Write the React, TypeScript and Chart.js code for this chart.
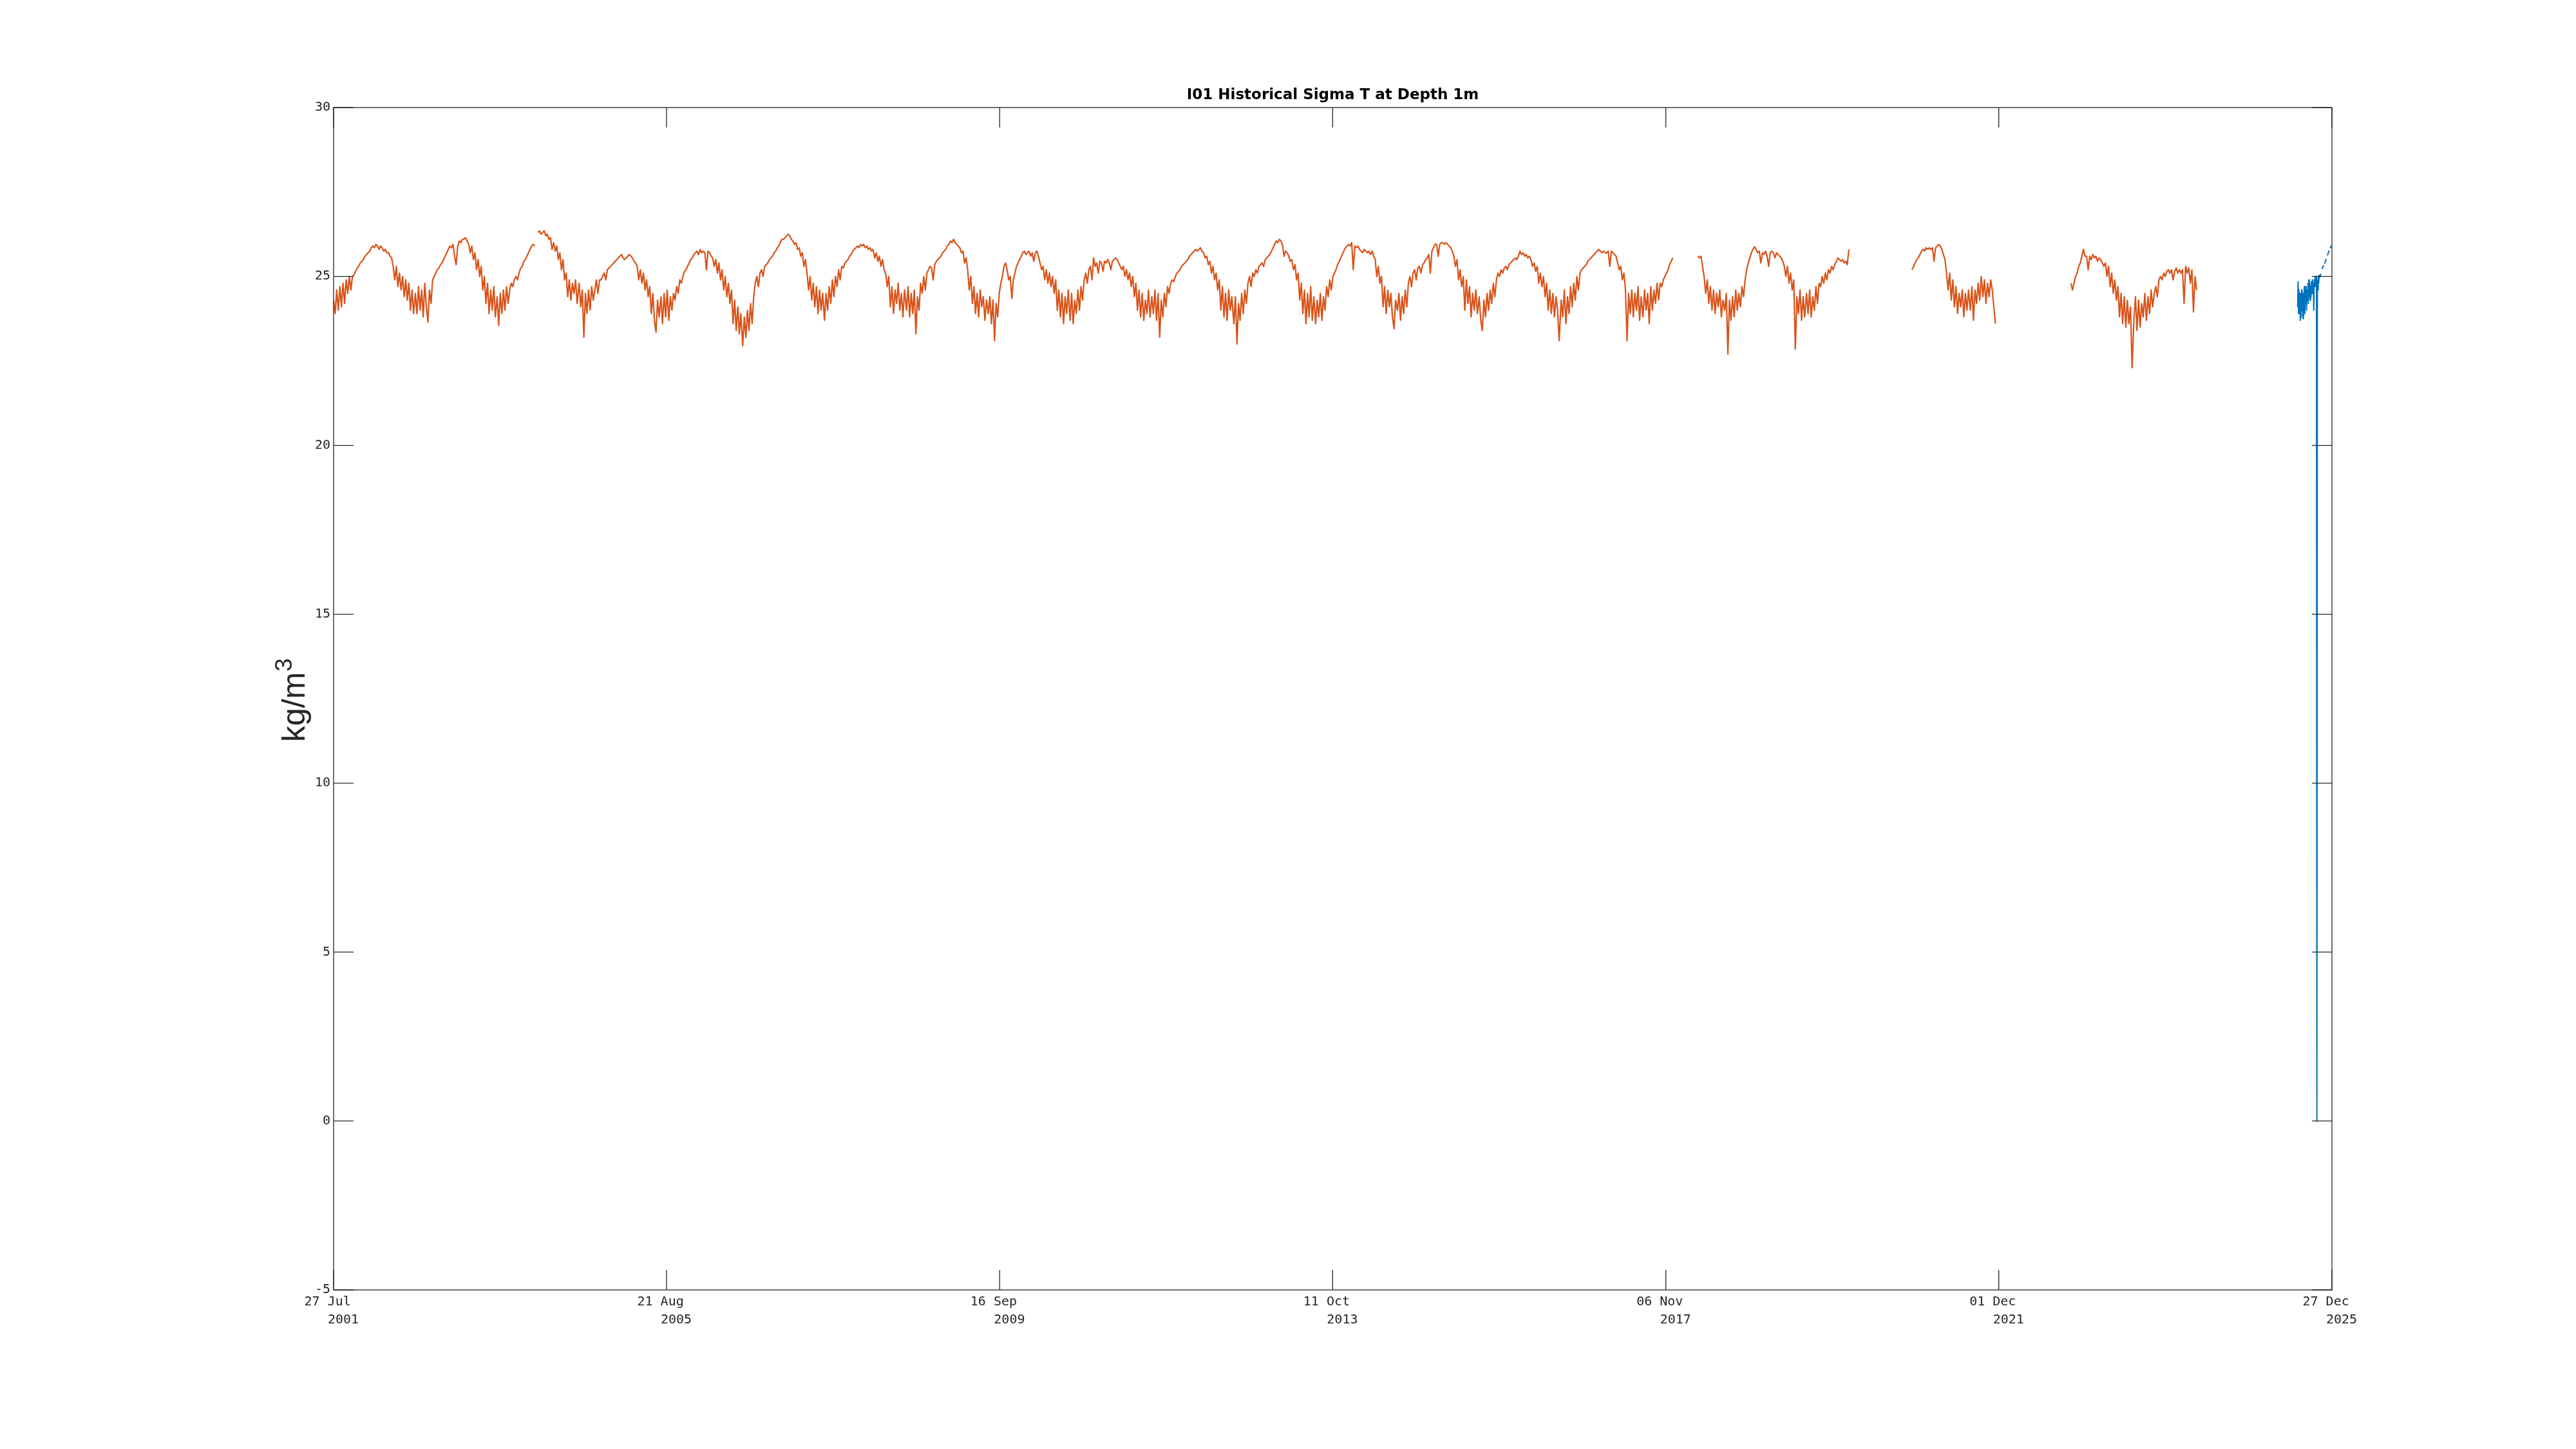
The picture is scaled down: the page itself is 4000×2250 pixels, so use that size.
import React, { useEffect, useRef } from "react";
import { Chart, registerables } from "chart.js";

Chart.register(...registerables);

const ORANGE = "#D95319";
const BLUE = "#0072BD";
const AXIS = "#262626";
const TITLE = "I01 Historical Sigma T at Depth 1m";

const X_START = "2001-07-27";
const X_END = "2025-12-27";
const xTickDates = ["2001-07-27", "2005-08-21", "2009-09-16", "2013-10-11", "2017-11-06", "2021-12-01", "2025-12-27"];
const xTickDayLabels = ["27 Jul", "21 Aug", "16 Sep", "11 Oct", "06 Nov", "01 Dec", "27 Dec"];
const xTickYearLabels = ["2001", "2005", "2009", "2013", "2017", "2021", "2025"];
const yTickValues = [-5, 0, 5, 10, 15, 20, 25, 30];

// Weekly sigma-T readings, each list starting on 27 Jul of its year
const cycleStarts = [
  "2001-07-27", "2002-07-27", "2003-07-27", "2004-07-27", "2005-07-27", "2006-07-27",
  "2007-07-27", "2008-07-27", "2009-07-27", "2010-07-27", "2011-07-27", "2012-07-27",
  "2013-07-27", "2014-07-27", "2015-07-27", "2016-07-27", "2017-07-27", "2018-07-27",
  "2019-07-27", "2020-07-27", "2021-07-27", "2022-07-27", "2023-07-27",
];

const c2001 = [24.3, 23.9, 24.6, 24.0, 24.7, 24.1, 24.8, 24.2, 24.9, 24.5, 25.0, 24.6, 25.0,
  25.05, 25.15, 25.25, 25.3, 25.4, 25.45, 25.5, 25.6, 25.65, 25.7, 25.75, 25.85, 25.9,
  25.85, 25.95, 25.9, 25.8, 25.9, 25.85, 25.75, 25.8, 25.7, 25.7, 25.6, 25.55,
  25.3, 24.9, 25.3, 24.7, 25.1, 24.6, 25.0, 24.4, 24.9, 24.3, 24.8, 24.0, 24.6, 23.9];
const c2002 = [24.5, 23.9, 24.7, 24.0, 24.6, 23.8, 24.8, 24.1, 23.65, 24.6, 24.2,
  24.9, 25.0, 25.1, 25.2, 25.25, 25.35, 25.4, 25.5, 25.6, 25.7,
  25.8, 25.9, 25.85, 25.95, 25.6, 25.35,
  25.9, 26.05, 26.0, 26.1, 26.1, 26.15, 26.05, 25.95,
  25.7, 25.9, 25.5, 25.7, 25.2, 25.5, 25.0, 25.3,
  24.6, 25.0, 24.2, 24.8, 23.9, 24.6, 24.0, 24.7, 23.8];
const c2003 = [24.4, 23.55, 24.5, 23.9, 24.6, 24.0, 24.7, 24.2, 24.6,
  24.8, 24.7, 24.9, 25.0, 24.9, 25.1, 25.25, 25.3, 25.45, 25.5, 25.6, 25.7, 25.8, 25.9, 25.95,
  25.9, null,
  26.3, 26.35, 26.25, 26.3, 26.35, 26.2, 26.25, 26.1,
  26.15, 25.8, 26.0, 25.75, 25.9, 25.5, 25.7, 25.2, 25.5, 24.9,
  25.1, 24.4, 24.9, 24.3, 24.8, 24.5, 24.9, 24.2];
const c2004 = [24.8, 24.1, 24.6, 23.2, 24.5, 23.9, 24.6, 24.0, 24.7, 24.3,
  24.6, 24.9, 24.5, 24.9, 24.9, 25.0, 25.1, 24.9, 25.2, 25.25, 25.3, 25.35, 25.4, 25.45,
  25.5, 25.55, 25.6, 25.65, 25.55, 25.5, 25.55, 25.6, 25.65, 25.6, 25.55, 25.45, 25.4,
  25.3, 24.9, 25.2, 24.8, 25.1, 24.6, 24.9, 24.4,
  24.7, 23.9, 24.5, 23.7, 23.35, 24.3, 23.8];
const c2005 = [24.4, 23.6, 24.5, 23.8, 24.6, 23.7, 24.4, 24.0, 24.5,
  24.3, 24.7, 24.5, 24.9, 24.8, 25.0, 25.15, 25.2, 25.3, 25.4, 25.5, 25.55,
  25.65, 25.7, 25.75, 25.65, 25.8, 25.7, 25.75, 25.7, 25.2, 25.75, 25.7, 25.6,
  25.55, 25.3, 25.5, 25.1, 25.4, 24.9, 25.2, 24.6, 25.0, 24.4, 24.8,
  24.2, 24.6, 23.6, 24.3, 23.4, 24.1, 23.3, 23.9];
const c2006 = [22.95, 23.8, 23.2, 24.0, 23.4, 24.2, 23.6, 24.4,
  24.8, 25.0, 24.7, 25.1, 25.2, 25.0, 25.3, 25.35, 25.4, 25.5, 25.55, 25.6, 25.7, 25.75, 25.85, 25.9, 26.0, 26.1,
  26.1, 26.15, 26.2, 26.25, 26.2,
  26.1, 26.05, 25.95, 26.0, 25.8, 25.85, 25.6, 25.7, 25.3, 25.5,
  25.1, 24.6, 25.0, 24.3, 24.8, 24.1, 24.7, 23.9, 24.6, 24.0, 24.5];
const c2007 = [23.7, 24.5, 24.0, 24.7, 24.2, 24.9, 24.4, 25.0, 24.7,
  25.2, 24.9, 25.3, 25.25, 25.4, 25.45, 25.5, 25.6, 25.65, 25.75, 25.8,
  25.85, 25.9, 25.85, 25.95, 25.9, 25.95, 25.85, 25.9, 25.8, 25.85, 25.75,
  25.8, 25.55, 25.7, 25.45, 25.6, 25.3, 25.5, 25.2, 25.1, 24.7,
  25.0, 24.1, 24.7, 23.9, 24.6, 24.2, 24.8, 24.0, 24.5, 23.8, 24.6];
const c2008 = [24.0, 24.7, 23.8, 24.5, 23.9, 24.6, 23.3, 24.4, 24.0,
  24.8, 24.5, 25.0, 24.6, 25.1, 25.2, 25.3, 25.25, 24.9, 25.35,
  25.45, 25.5, 25.55, 25.6, 25.7, 25.75, 25.8, 25.9, 25.95,
  26.05, 26.0, 26.1, 26.0, 25.95, 25.9,
  25.85, 25.7, 25.75, 25.4, 25.55, 25.2,
  24.6, 25.0, 24.2, 24.7, 23.9, 24.5, 23.8, 24.6, 24.1, 24.4, 23.7, 24.3];
const c2009 = [23.9, 24.4, 23.6, 24.3, 23.1, 24.2, 23.8, 24.5,
  24.8, 25.0, 25.3, 25.4, 25.2,
  24.9, 25.0, 24.35, 24.9, 25.1,
  25.3, 25.4, 25.5, 25.6, 25.7,
  25.75, 25.65, 25.7, 25.75, 25.6, 25.7, 25.45, 25.7, 25.75, 25.6,
  25.4, 25.2, 25.3, 24.9, 25.2, 24.8, 25.1, 24.7, 25.0, 24.5,
  24.9, 24.0, 24.6, 23.8, 24.5, 23.6, 24.4, 23.9, 24.6];
const c2010 = [23.7, 24.5, 23.6, 24.3, 23.9, 24.6, 24.0, 24.7, 24.3,
  24.9, 25.1, 24.8, 25.2, 25.3, 24.9, 25.55, 25.3,
  25.4, 25.1, 25.45, 25.4, 25.15, 25.45, 25.4, 25.5, 25.4, 25.2, 25.45, 25.5, 25.55, 25.5,
  25.4, 25.3, 25.2, 25.3, 25.0, 25.2, 24.9, 25.1, 24.7, 25.0,
  24.4, 24.8, 24.0, 24.6, 23.8, 24.5, 23.7, 24.3, 23.9, 24.6, 23.8];
const c2011 = [24.4, 23.9, 24.6, 23.7, 24.5, 23.2, 24.3, 23.8, 24.5, 24.1,
  24.7, 24.5, 24.8, 24.9, 24.85, 25.0, 25.1, 25.15, 25.2, 25.3, 25.35, 25.4, 25.45, 25.5, 25.6, 25.65, 25.7,
  25.75, 25.8, 25.75, 25.8, 25.85, 25.75, 25.7,
  25.55, 25.6, 25.35, 25.45, 25.1, 25.3, 24.9, 25.1, 24.6,
  24.9, 24.0, 24.7, 23.8, 24.5, 23.7, 24.6, 24.0, 24.4];
const c2012 = [23.6, 24.4, 23.0, 24.2, 23.7, 24.5, 23.9, 24.6, 24.2,
  24.8, 25.0, 24.7, 25.1, 25.0, 25.2, 25.1, 25.3, 25.35, 25.4, 25.3, 25.5, 25.55, 25.6, 25.65, 25.75,
  25.85, 25.95, 26.05, 26.0, 26.1, 26.05, 25.95,
  25.6, 25.75, 25.7, 25.6, 25.45, 25.5, 25.2, 25.35, 24.9, 25.1,
  24.3, 24.8, 23.9, 24.6, 23.6, 24.5, 23.8, 24.7, 23.7, 24.4];
const c2013 = [23.6, 24.3, 23.8, 24.5, 23.7, 24.4, 24.0, 24.7, 24.4, 24.9, 24.6,
  25.0, 25.1, 25.2, 25.35, 25.45, 25.55, 25.65, 25.75, 25.85, 25.9,
  25.95, 25.9, 26.0, 25.2, 25.9, 25.85, 25.9,
  25.8, 25.75, 25.7, 25.8, 25.75, 25.7, 25.75, 25.65, 25.75, 25.6,
  25.5, 25.0, 25.3, 24.8,
  25.0, 24.1, 24.7, 23.9, 24.6, 24.1, 24.5, 23.8, 23.45, 24.3];
const c2014 = [24.0, 24.5, 23.7, 24.4, 23.9, 24.6, 24.1, 24.8,
  25.0, 24.7, 25.1, 25.2, 24.9, 25.25, 25.3, 25.1, 25.35, 25.4, 25.5, 25.55, 25.65,
  25.1, 25.75, 25.85, 25.95, 25.95, 25.6, 25.95, 26.0, 26.0, 25.95, 26.0, 25.95, 25.9, 25.85, 25.75, 25.6,
  25.3, 25.5, 24.9, 25.2, 24.7, 25.0, 24.0, 24.9,
  24.2, 24.7, 23.8, 24.5, 24.0, 24.6, 23.9];
const c2015 = [24.4, 23.7, 23.4, 24.3, 23.8, 24.5, 24.0, 24.6, 24.2, 24.8, 24.4,
  24.9, 25.1, 25.0, 25.2, 25.1, 25.25, 25.3, 25.2, 25.35, 25.4, 25.45,
  25.5, 25.55, 25.5, 25.6, 25.75, 25.65, 25.7, 25.6, 25.65, 25.55, 25.6, 25.5,
  25.3, 25.4, 25.15, 25.3, 24.8, 25.1, 24.7, 25.0,
  24.4, 24.8, 24.0, 24.6, 23.9, 24.5, 23.8, 24.4, 24.0, 23.1];
const c2016 = [24.3, 23.8, 24.6, 23.6, 24.4, 23.9, 24.7, 24.1, 24.8, 24.3,
  25.0, 24.6, 25.1, 25.2, 25.25, 25.3, 25.35, 25.45, 25.5, 25.55, 25.6, 25.65,
  25.7, 25.75, 25.8, 25.75, 25.7, 25.75, 25.7, 25.7, 25.75, 25.3, 25.75, 25.7, 25.65, 25.6,
  25.4, 25.2, 25.3, 24.9, 25.1, 24.6,
  23.1, 24.5, 23.9, 24.6, 23.8, 24.5, 24.0, 24.7, 23.7, 24.4];
const c2017 = [23.8, 24.6, 24.0, 24.5, 23.6, 24.7, 24.0, 24.6, 24.2, 24.8, 24.3,
  24.8, 24.7, 24.9, 25.0, 25.1, 25.2, 25.35, 25.45, 25.55,
  null, null, null, null, null, null, null, null, null, null, null, null, null, null, null,
  25.6, 25.55, 25.6, 25.3,
  25.0, 24.5, 24.9, 24.2, 24.7, 24.0, 24.6, 23.9, 24.5, 24.1, 24.6, 23.8, 24.3];
const c2018 = [24.0, 24.5, 22.7, 24.3, 23.7, 24.4, 23.8, 24.6, 24.0, 24.5, 24.1, 24.7, 24.4, 24.9,
  25.2, 25.4, 25.55, 25.7, 25.8, 25.88,
  25.8, 25.7, 25.75, 25.4, 25.7, 25.65, 25.75, 25.6, 25.3, 25.7, 25.75, 25.7, 25.55, 25.7, 25.65, 25.6, 25.55, 25.45,
  25.3, 25.0, 25.3, 24.8, 25.1, 24.6,
  24.9, 22.85, 24.4, 23.9, 24.6, 23.7, 24.4, 23.8];
const c2019 = [24.5, 23.9, 24.6, 23.8, 24.4, 24.0, 24.7, 24.2, 24.8,
  24.7, 25.0, 24.8, 25.1, 24.9, 25.2, 25.1, 25.3, 25.2, 25.35,
  25.45, 25.55, 25.5, 25.45, 25.5, 25.4, 25.45, 25.35, 25.8];
const c2020 = [null, null, null, null, null, null, null, null, null, null, null, null, null, null, null,
  25.2, 25.3, 25.4, 25.5, 25.55, 25.65, 25.75, 25.8, 25.75, 25.85, 25.8, 25.85, 25.8, 25.85, 25.45, 25.85, 25.9, 25.95, 25.9,
  25.8, 25.65, 25.5, 25.1,
  24.6, 25.1, 24.3, 24.9, 24.1, 24.7, 23.9, 24.5, 24.1, 24.6, 23.8, 24.5, 24.0, 24.6];
const c2021 = [24.0, 24.7, 23.7, 24.6, 24.2, 24.8, 24.3, 25.0, 24.4, 24.9, 24.2, 24.8, 24.4, 24.9, 24.6, 24.1, 23.6];
const c2022 = [null, null, null, null, null, null, null, null, null, null, null, null,
  24.8, 24.6, 24.8, 25.0, 25.1,
  25.3, 25.4, 25.6, 25.8,
  25.6, 25.6, 25.2, 25.6, 25.5, 25.65, 25.55, 25.6, 25.45, 25.55, 25.5, 25.4,
  25.3, 25.4, 25.0, 25.3, 24.7, 25.1, 24.5, 24.9, 24.3,
  24.7, 23.8, 24.5, 23.6, 24.4, 23.5, 24.3, 23.6, 24.1, 22.3];
const c2023 = [23.7, 24.4, 23.4, 24.3, 23.5, 24.2, 23.8, 24.5, 23.7, 24.4, 23.9, 24.6, 24.1, 24.5,
  24.7, 24.4, 24.9, 25.0, 24.9, 25.1, 25.0, 25.15,
  25.2, 25.1, 25.2, 24.9, 25.15, 25.25, 25.1, 25.2, 25.1, 25.2, 24.2, 25.3, 25.1, 25.25, 24.8, 25.2, 23.95, 25.0, 24.6];

const cycles = [c2001, c2002, c2003, c2004, c2005, c2006, c2007, c2008, c2009, c2010, c2011, c2012,
  c2013, c2014, c2015, c2016, c2017, c2018, c2019, c2020, c2021, c2022, c2023];

// Recent deployment: every 2 days from 27 Jul 2025
const blueStart = "2025-07-27";
const blueValues = [24.1, 24.85, 23.9, 24.6, 24.0, 24.5, 23.7, 24.4, 23.8, 24.6, 24.0, 24.5, 23.75,
  24.5, 24.1, 24.7, 23.9, 24.6, 24.2, 24.7, 24.0, 24.6, 24.3, 24.8, 24.2, 24.9, 24.4, 24.8, 24.3,
  24.7, 24.4, 24.85, 24.5, 24.9, 24.6, 24.8, 24.0, 24.9, 24.7, 25.0, 24.75, 25.0, 24.8, 0,
  24.9, 24.6, 25.0, 24.8, 25.05];
const blueTailDates = ["2025-11-01", "2025-11-08", "2025-11-10", "2025-11-13", "2025-11-20", "2025-11-22",
  "2025-11-24", "2025-12-02", "2025-12-04", "2025-12-07", "2025-12-15", "2025-12-17", "2025-12-19", "2025-12-26"];
const blueTailValues = [24.95, 25.08, null, 25.22, 25.33, null, 25.38, 25.52, null, 25.62, 25.77, null, 25.84, 25.92];

const DAY = 86400000;

function buildOrange() {
  const pts: { x: number; y: number | null }[] = [];
  cycles.forEach((arr, k) => {
    const t0 = Date.parse(cycleStarts[k]);
    arr.forEach((v, w) => pts.push({ x: t0 + w * 7 * DAY, y: v }));
  });
  return pts;
}

function buildBlue() {
  const t0 = Date.parse(blueStart);
  return blueValues.map((v, i) => ({ x: t0 + i * 2 * DAY, y: v }));
}

function buildBlueTail() {
  return blueTailDates.map((d, i) => ({ x: Date.parse(d), y: blueTailValues[i] }));
}

const axesPlugin = {
  id: "matlabAxes",
  afterDatasetsDraw(chart: any) {
    const { ctx, chartArea: a, scales } = chart;
    const xs = scales.x;
    const ys = scales.y;
    const TL = 31;
    ctx.save();
    ctx.strokeStyle = AXIS;
    ctx.lineWidth = 1.3;
    ctx.strokeRect(a.left, a.top, a.right - a.left, a.bottom - a.top);
    ctx.beginPath();
    xTickDates.forEach((d) => {
      const px = xs.getPixelForValue(Date.parse(d));
      ctx.moveTo(px, a.bottom);
      ctx.lineTo(px, a.bottom - TL);
      ctx.moveTo(px, a.top);
      ctx.lineTo(px, a.top + TL);
    });
    yTickValues.forEach((v) => {
      const py = ys.getPixelForValue(v);
      ctx.moveTo(a.left, py);
      ctx.lineTo(a.left + TL, py);
      ctx.moveTo(a.right, py);
      ctx.lineTo(a.right - TL, py);
    });
    ctx.stroke();

    ctx.fillStyle = AXIS;
    ctx.font = '20px "DejaVu Sans Mono"';
    ctx.textAlign = "right";
    ctx.textBaseline = "middle";
    yTickValues.forEach((v) => ctx.fillText(String(v), a.left - 5, ys.getPixelForValue(v)));

    ctx.textAlign = "left";
    ctx.textBaseline = "alphabetic";
    xTickDates.forEach((d, i) => {
      const px = xs.getPixelForValue(Date.parse(d));
      ctx.fillText(xTickDayLabels[i], px - 45.5, a.bottom + 24);
      ctx.fillText(xTickYearLabels[i], px - 9, a.bottom + 52);
    });

    ctx.fillStyle = "#000000";
    ctx.font = 'bold 23px "DejaVu Sans"';
    ctx.textAlign = "center";
    ctx.fillText(TITLE, (a.left + a.right) / 2, a.top - 13);

    ctx.save();
    ctx.translate(a.left - 45, (a.top + a.bottom) / 2 + 67);
    ctx.rotate(-Math.PI / 2);
    ctx.fillStyle = AXIS;
    ctx.textAlign = "left";
    ctx.font = '50px "Liberation Sans"';
    ctx.fillText("kg/m", 0, 0);
    const w = ctx.measureText("kg/m").width;
    ctx.font = '37px "Liberation Sans"';
    ctx.fillText("3", w + 1, -20);
    ctx.restore();
    ctx.restore();
  },
};

export default function App() {
  const ref = useRef<HTMLCanvasElement>(null);
  useEffect(() => {
    if (!ref.current) return;
    const common = {
      pointRadius: 0,
      spanGaps: false,
      tension: 0,
      borderJoinStyle: "round" as const,
      fill: false,
    };
    const chart = new Chart(ref.current, {
      type: "line",
      data: {
        datasets: [
          { ...common, borderWidth: 2.2, data: buildOrange() as any, borderColor: ORANGE },
          { ...common, borderWidth: 2, data: buildBlue() as any, borderColor: BLUE },
          { ...common, borderWidth: 2, data: buildBlueTail() as any, borderColor: BLUE },
        ],
      },
      options: {
        responsive: false,
        animation: false,
        devicePixelRatio: 1,
        events: [],
        layout: { padding: { left: 518, top: 167, right: 379, bottom: 247 } },
        plugins: {
          legend: { display: false },
          tooltip: { enabled: false },
          title: { display: false },
        },
        scales: {
          x: { type: "linear", min: Date.parse(X_START), max: Date.parse(X_END), display: false },
          y: { type: "linear", min: -5, max: 30, display: false },
        },
      },
      plugins: [axesPlugin],
    });
    return () => chart.destroy();
  }, []);
  return (
    <div style={{ position: "absolute", left: 0, top: 0, width: 4000, height: 2250, background: "#ffffff" }}>
      <canvas ref={ref} width={4000} height={2250} style={{ display: "block", width: 4000, height: 2250 }} />
    </div>
  );
}
